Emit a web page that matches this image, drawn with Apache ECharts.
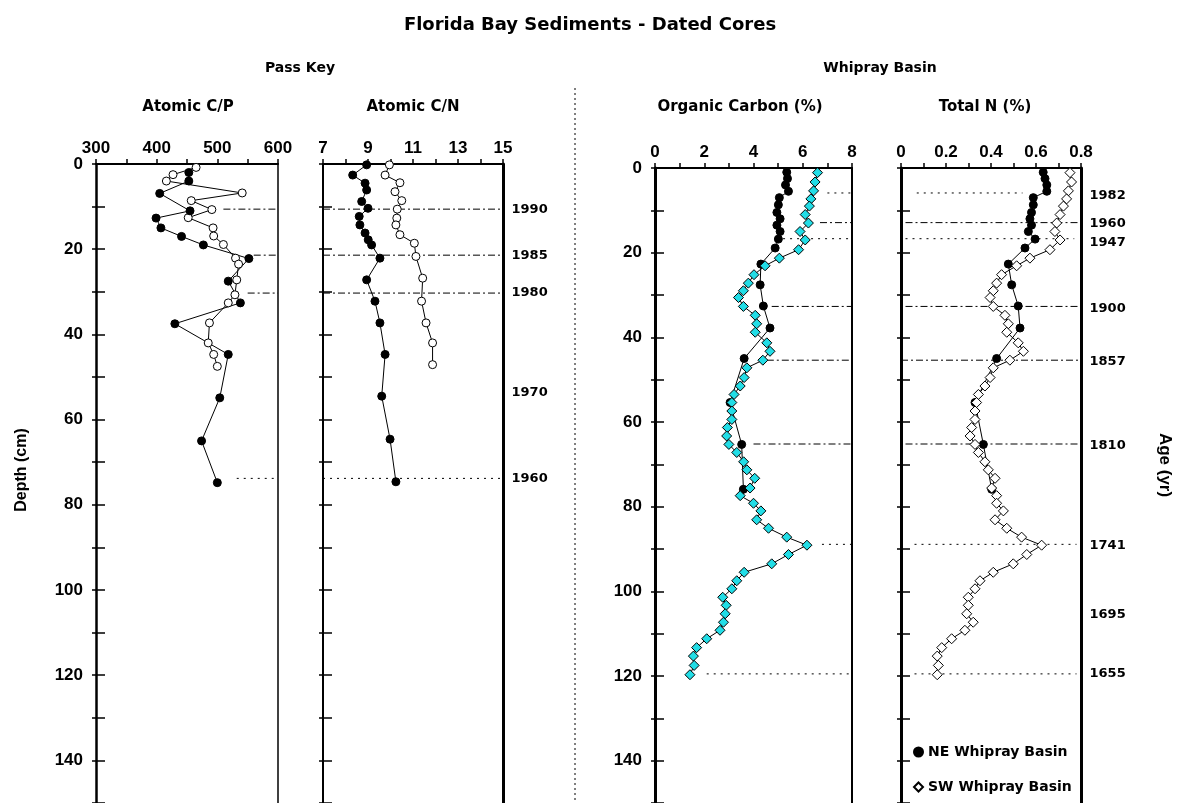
<!DOCTYPE html>
<html><head><meta charset="utf-8">
<script src="https://cdn.jsdelivr.net/npm/echarts@6/dist/echarts.min.js"></script>
<style>html,body{margin:0;padding:0;background:#fff}#c{width:1187px;height:803px}</style>
</head><body><div id="c"></div>
<script>
// ---------- Pass Key ----------
const cpDepthA = [2, 4, 6.9, 11, 12.7, 15, 17, 19, 22.2, 27.5, 32.6, 37.5, 44.7, 54.9, 65, 74.8];
const cpValA   = [453, 453, 405, 455, 399, 407, 441, 477, 552, 518, 538, 430, 518, 504, 474, 500];
const cpDepthB = [0.8, 2.5, 4, 6.8, 8.6, 10.7, 12.6, 15, 16.9, 18.9, 22.1, 23.5, 27.2, 30.7, 32.6, 37.3, 42, 44.7, 47.5];
const cpValB   = [465, 427, 416, 541, 457, 491, 452, 493, 494, 510, 530, 535, 532, 529, 518, 487, 485, 494, 500];
const cnDepthA = [0.2, 2.6, 4.5, 6.1, 8.8, 10.4, 12.3, 14.3, 16.2, 17.8, 19, 22.1, 27.2, 32.2, 37.3, 44.7, 54.5, 64.6, 74.6];
const cnValA   = [8.94, 8.32, 8.87, 8.94, 8.72, 9.0, 8.61, 8.64, 8.87, 9.01, 9.16, 9.53, 8.94, 9.31, 9.53, 9.76, 9.61, 9.98, 10.24];
const cnDepthB = [0.2, 2.6, 4.4, 6.5, 8.6, 10.6, 12.7, 14.3, 16.6, 18.6, 21.7, 26.8, 32.2, 37.3, 42, 47.1];
const cnValB   = [9.95, 9.76, 10.42, 10.2, 10.5, 10.3, 10.28, 10.24, 10.42, 11.06, 11.13, 11.43, 11.38, 11.58, 11.87, 11.87];
const passKeyYears = ['1990', '1985', '1980', '1970', '1960'];
const passKeyYearDepth = [10.6, 21.4, 30.3, 53.6, 73.8];
const passKeyLineDepth = [10.6, 21.4, 30.3, 73.8];
const cpLineStart = [510, 560, 550, 532];

// ---------- Whipray Basin ----------
const neDepth = [1, 2.5, 4, 5.5, 7, 8.7, 10.5, 12, 13.5, 15, 16.8, 18.9, 22.7, 27.6, 32.6, 37.8, 45, 55.4, 65.3, 75.9];
const neOC    = [5.35, 5.38, 5.3, 5.42, 5.05, 5.01, 4.95, 5.08, 4.95, 5.08, 5.01, 4.88, 4.3, 4.27, 4.4, 4.67, 3.62, 3.05, 3.52, 3.59];
const neTN    = [0.632, 0.64, 0.648, 0.648, 0.588, 0.588, 0.58, 0.573, 0.58, 0.566, 0.596, 0.551, 0.477, 0.492, 0.521, 0.529, 0.425, 0.329, 0.366, 0.403];
const swDepth = [1.1, 3.3, 5.4, 7.3, 9, 11, 13, 15, 17, 19.3, 21.3, 23.1, 25.2, 27.2, 29, 30.6, 32.7, 34.8, 36.8, 38.8,
                 41.3, 43.3, 45.4, 47.2, 49.5, 51.5, 53.5, 55.4, 57.4, 59.4, 61.3, 63.3, 65.3, 67.2, 69.4, 71.3, 73.3, 75.6, 77.4, 79.2,
                 81, 83.1, 85.1, 87.2, 89.1, 91.3, 93.5, 95.5, 97.5, 99.4, 101.4, 103.3, 105.3, 107.3, 109.2, 111.2, 113.3, 115.3, 117.5, 119.7];
const swOC    = [6.6, 6.5, 6.44, 6.33, 6.27, 6.1, 6.23, 5.89, 6.1, 5.83, 5.05, 4.47, 4.02, 3.79, 3.59, 3.39, 3.59, 4.07, 4.13, 4.07,
                 4.54, 4.67, 4.38, 3.73, 3.62, 3.46, 3.21, 3.12, 3.12, 3.12, 2.94, 2.91, 3.0, 3.32, 3.6, 3.73, 4.05, 3.86, 3.46, 4.0,
                 4.3, 4.13, 4.61, 5.35, 6.17, 5.42, 4.74, 3.62, 3.32, 3.12, 2.75, 2.89, 2.85, 2.78, 2.64, 2.1, 1.69, 1.56, 1.59, 1.42];
const swTN    = [0.751, 0.758, 0.744, 0.736, 0.722, 0.707, 0.692, 0.684, 0.707, 0.662, 0.573, 0.514, 0.447, 0.425, 0.41, 0.396, 0.41, 0.462, 0.477, 0.47,
                 0.521, 0.544, 0.484, 0.41, 0.396, 0.373, 0.344, 0.336, 0.329, 0.329, 0.314, 0.307, 0.329, 0.344, 0.373, 0.388, 0.418, 0.403, 0.425, 0.425,
                 0.455, 0.418, 0.47, 0.536, 0.625, 0.559, 0.499, 0.41, 0.351, 0.329, 0.299, 0.299, 0.292, 0.321, 0.284, 0.225, 0.181, 0.161, 0.166, 0.161];
const whiprayYears = ['1982', '1960', '1947', '1900', '1857', '1810', '1741', '1695', '1655'];
const whiprayYearDepth = [6.5, 13.2, 17.6, 33.3, 45.8, 65.6, 89.2, 105.6, 119.5];
const whiprayLineDepth = [5.9, 12.9, 16.7, 32.7, 45.4, 65.2, 88.9, 119.5];
const ocLineStart = [7.0, 6.7, 5.2, 4.74, 4.54, 4.0, 6.78, 2.1];
const tnLineStart = [0.07, 0.02, 0.02, 0.02, 0.0, 0.02, 0.06, 0.06];
const tnLineEnd   = [0.54, 0.8, 0.77, 0.8, 0.8, 0.8, 0.78, 0.78];

// ---------- styles ----------
const FONT = '"Liberation Sans", Arial, Helvetica, sans-serif';
const WIDEFONT = '"DejaVu Sans", "Liberation Sans", Arial, sans-serif';
const DASHDOT = [7, 3, 2, 3];
const DOTS = [2, 5];
const passKeyLineStyle = [DASHDOT, DASHDOT, DASHDOT, DOTS];
const whiprayLineStyle = [DOTS, DASHDOT, DOTS, DASHDOT, DASHDOT, DASHDOT, DOTS, DOTS];
const CYAN = '#22dde6';

const pairs = (vals, depths) => vals.map((v, i) => [v, depths[i]]);

const grids = [
  { left: 96, top: 164, width: 182, height: 640 },
  { left: 323, top: 164, width: 180, height: 640 },
  { left: 655, top: 168, width: 197, height: 637 },
  { left: 901, top: 168, width: 180, height: 637 }
];

function xAx(g, min, max, interval, fmt) {
  return {
    gridIndex: g, type: 'value', position: 'top', min, max, interval,
    axisLine: { show: true, onZero: false, lineStyle: { color: '#000', width: 2 } },
    axisTick: { show: true, inside: false, length: 5, lineStyle: { color: '#000', width: 1.5 } },
    axisLabel: { show: true, formatter: fmt, color: '#000', fontSize: 17, fontWeight: 'bold', fontFamily: FONT, margin: 7 },
    splitLine: { show: false }
  };
}
function yAxes(g, showLabels, lw, rw) {
  const base = { gridIndex: g, type: 'value', inverse: true, min: 0, max: 150, interval: 10, splitLine: { show: false } };
  return [
    Object.assign({}, base, {
      position: 'left',
      axisLine: { show: true, onZero: false, lineStyle: { color: '#000', width: lw } },
      axisTick: { show: true, inside: true, length: 9, lineStyle: { color: '#000', width: 1.5 } },
      axisLabel: { show: showLabels, color: '#000', fontSize: 17, fontWeight: 'bold', fontFamily: FONT, margin: 13,
        formatter: v => (v % 20 === 0 && v <= 140) ? String(v) : '' }
    }),
    Object.assign({}, base, {
      position: 'left',
      axisLine: { show: false },
      axisTick: { show: true, inside: false, length: 4, lineStyle: { color: '#000', width: 1.5 } },
      axisLabel: { show: false }
    }),
    Object.assign({}, base, {
      position: 'right',
      axisLine: { show: true, onZero: false, lineStyle: { color: '#000', width: rw } },
      axisTick: { show: false }, axisLabel: { show: false }
    })
  ];
}

const xAxes = [
  xAx(0, 300, 600, 50, v => (Math.round(v) % 100 === 0) ? String(v) : ''),
  xAx(1, 7, 15, 1, v => (Math.round(v) % 2 === 1) ? String(Math.round(v)) : ''),
  xAx(2, 0, 8, 1, v => (Math.round(v) % 2 === 0) ? String(Math.round(v)) : ''),
  xAx(3, 0, 0.8, 0.1, v => { const k = Math.round(v * 10); return k % 2 === 0 ? (k === 0 ? '0' : (k / 10).toFixed(1)) : ''; })
];
const yAxesAll = [].concat(yAxes(0, true, 2.5, 1.5), yAxes(1, false, 2, 3), yAxes(2, true, 3, 2), yAxes(3, false, 3, 3));

function dataSeries(name, g, data, symbol, size, fill) {
  return {
    name, type: 'line', xAxisIndex: g, yAxisIndex: g * 3, data, symbol, symbolSize: size,
    showAllSymbol: true, z: 5, clip: false,
    lineStyle: { color: '#000', width: 1 },
    itemStyle: { color: fill, borderColor: '#000', borderWidth: 1 },
    emphasis: { disabled: true }
  };
}
function refLine(g, x1, x2, d, dash) {
  return {
    type: 'line', xAxisIndex: g, yAxisIndex: g * 3, data: [[x1, d], [x2, d]], symbol: 'none', z: 1,
    lineStyle: { color: '#000', width: 1, type: dash }, silent: true, clip: false
  };
}
function yearLabels(g, xPos, years, depths) {
  return {
    type: 'scatter', xAxisIndex: g, yAxisIndex: g * 3, data: depths.map(d => [xPos, d]), symbolSize: 1,
    itemStyle: { color: 'rgba(0,0,0,0)', opacity: 1 }, silent: true, clip: false,
    label: { show: true, position: 'right', distance: 8, formatter: p => years[p.dataIndex], opacity: 1,
      color: '#000', fontSize: 13, fontWeight: 'bold', fontFamily: WIDEFONT }
  };
}

const series = [];
passKeyLineDepth.forEach((d, i) => {
  series.push(refLine(0, cpLineStart[i], 600, d, passKeyLineStyle[i]));
  series.push(refLine(1, 7, 15, d, passKeyLineStyle[i]));
});
whiprayLineDepth.forEach((d, i) => {
  series.push(refLine(2, ocLineStart[i], 8, d, whiprayLineStyle[i]));
  series.push(refLine(3, tnLineStart[i], tnLineEnd[i], d, whiprayLineStyle[i]));
});
series.push(dataSeries('cpB', 0, pairs(cpValB, cpDepthB), 'circle', 8, '#fff'));
series.push(dataSeries('cpA', 0, pairs(cpValA, cpDepthA), 'circle', 8, '#000'));
series.push(dataSeries('cnB', 1, pairs(cnValB, cnDepthB), 'circle', 8, '#fff'));
series.push(dataSeries('cnA', 1, pairs(cnValA, cnDepthA), 'circle', 8, '#000'));
series.push(dataSeries('ocNE', 2, pairs(neOC, neDepth), 'circle', 8, '#000'));
series.push(dataSeries('ocSW', 2, pairs(swOC, swDepth), 'diamond', 10, CYAN));
series.push(dataSeries('NE Whipray Basin', 3, pairs(neTN, neDepth), 'circle', 8, '#000'));
series.push(dataSeries('SW Whipray Basin', 3, pairs(swTN, swDepth), 'diamond', 10, '#fff'));
series.push(yearLabels(1, 15, passKeyYears, passKeyYearDepth));
series.push(yearLabels(3, 0.8, whiprayYears, whiprayYearDepth));

const txt = (text, x, y, size, font, rot) => ({
  type: 'text', x, y, rotation: rot || 0, silent: true,
  style: { text, font: 'bold ' + size + 'px ' + font, fill: '#000', textAlign: 'center', textVerticalAlign: 'middle' }
});

const option = {
  animation: false,
  backgroundColor: '#fff',
  grid: grids,
  xAxis: xAxes,
  yAxis: yAxesAll,
  series,
  legend: {
    data: [{ name: 'NE Whipray Basin', icon: 'circle' }, { name: 'SW Whipray Basin', icon: 'diamond' }],
    orient: 'vertical', left: 908, top: 740, itemWidth: 9, itemHeight: 9, itemGap: 21, selectedMode: false,
    textStyle: { color: '#000', fontSize: 14, fontWeight: 'bold', fontFamily: WIDEFONT }
  },
  graphic: [
    txt('Florida Bay Sediments - Dated Cores', 590, 25, 18, WIDEFONT),
    txt('Pass Key', 300, 68, 14, WIDEFONT),
    txt('Whipray Basin', 880, 68, 14, WIDEFONT),
    txt('Atomic C/P', 188, 107, 15, WIDEFONT),
    txt('Atomic C/N', 413, 107, 15, WIDEFONT),
    txt('Organic Carbon (%)', 740, 107, 15, WIDEFONT),
    txt('Total N (%)', 985, 107, 15, WIDEFONT),
    txt('Depth (cm)', 22, 470, 16, FONT, Math.PI / 2),
    txt('Age (yr)', 1165, 465, 17, FONT, -Math.PI / 2),
    { type: 'line', silent: true, shape: { x1: 575, y1: 88, x2: 575, y2: 803 },
      style: { stroke: '#000', lineWidth: 1, lineDash: [2, 3] } }
  ]
};
const chart = echarts.init(document.getElementById('c'), null, { renderer: 'canvas' });
chart.setOption(option);
</script></body></html>
